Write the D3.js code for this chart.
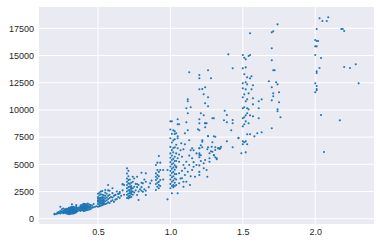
<!DOCTYPE html>
<html>
<head>
<meta charset="utf-8">
<script src="https://cdn.jsdelivr.net/npm/d3@7"></script>
<style>
  body { margin: 0; background: #fff; }
  text { font-family: Arial, "Liberation Sans", sans-serif; }
</style>
</head>
<body>
<svg id="chart" width="380" height="244"></svg>
<script>
// carat / price, grouped as [carat, [prices]] columns
const smallStones = [
  [0.20, [400, 460]], [0.21, [430]], [0.22, [470, 560]], [0.23, [500, 600]],
  [0.24, [480, 640, 700, 1100]], [0.25, [560, 650, 870]], [0.26, [500, 620, 720, 940]],
  [0.27, [540, 640, 780, 860]], [0.28, [480, 600, 650, 700, 820, 900]],
  [0.29, [450, 520, 560, 620, 700, 780, 850, 920]],
  [0.30, [420, 460, 500, 530, 560, 600, 620, 650, 680, 710, 740, 770, 800, 860, 950, 1000]],
  [0.31, [450, 490, 520, 560, 590, 620, 650, 680, 710, 740, 770, 830, 900, 980, 1050]],
  [0.32, [470, 510, 540, 570, 600, 630, 660, 690, 720, 760, 790, 850, 930, 1020, 1100, 1320]],
  [0.33, [480, 520, 550, 590, 620, 660, 690, 720, 760, 830, 900, 980, 1100]],
  [0.34, [520, 560, 600, 640, 680, 720, 760, 850, 940, 1050]],
  [0.35, [600, 650, 700, 750, 800, 900, 1000, 1150, 1250]],
  [0.36, [700, 850, 980]], [0.37, [760, 900, 1050]],
  [0.38, [720, 840, 900, 960, 1030, 1100, 1230]], [0.39, [780, 900, 960, 1020, 1080, 1150, 1280]],
  [0.40, [700, 820, 860, 900, 940, 980, 1020, 1060, 1100, 1140, 1180, 1220, 1300, 1380]],
  [0.41, [740, 860, 910, 950, 1000, 1040, 1080, 1120, 1160, 1200, 1290, 1350]],
  [0.42, [780, 880, 930, 980, 1030, 1080, 1120, 1160, 1250, 1330]],
  [0.43, [800, 950, 1030, 1100, 1230, 1400]], [0.44, [850, 1000, 1150, 1300]],
  [0.45, [900, 1080, 1250]], [0.46, [1000, 1200]], [0.47, [1050, 1350]],
  [0.48, [1100]], [0.49, [1150]]
];

const halfCarat = [
  [0.50, [1100, 1350, 1550, 1700, 1850, 2000, 2300]],
  [0.51, [1150, 1250, 1450, 1600, 1750, 1900, 2150, 2400]],
  [0.52, [1200, 1400, 1500, 1650, 1800, 1950, 2250, 2500]],
  [0.53, [1250, 1300, 1450, 1550, 1700, 1850, 2000, 2200, 2550]],
  [0.54, [1300, 1400, 1500, 1650, 1750, 1950, 2150]],
  [0.55, [1350, 1600, 1850, 2100, 2400, 2640]],
  [0.56, [1400, 1700, 1950, 2300]], [0.57, [1500, 1800, 2100, 2600, 3100]],
  [0.58, [1450, 1900, 2200, 2570]], [0.59, [1600, 2000]],
  [0.60, [1700, 1950, 2350, 2800]], [0.61, [1550, 2100]], [0.62, [1750, 2180, 2200]],
  [0.63, [1800, 2500]], [0.64, [2000, 2270, 2300]], [0.65, [1900, 2330, 2450]],
  [0.66, [2100]], [0.67, [2600, 3150, 3190]], [0.68, [2200, 3100]]
];

const sevenTenths = [
  [0.70, [1900, 2200, 2500, 2800, 3100, 3400, 3700, 4150, 4630]],
  [0.71, [1870, 2050, 2300, 2600, 2900, 3250, 3550, 3900, 4400]],
  [0.72, [1950, 2100, 2350, 2450, 2650, 2950, 3200, 3600]],
  [0.73, [2000, 2250, 2400, 2550, 2750, 2790, 2850, 3000, 3300]],
  [0.74, [2200, 2500, 2800, 3400, 3850]],
  [0.75, [2400, 2940, 3700]], [0.76, [2600, 3200]], [0.77, [2180, 2900, 3190, 3860]],
  [0.78, [1720, 2500, 3100]], [0.79, [2700]], [0.80, [2570, 2900, 3300, 4230]],
  [0.81, [2480, 3250]], [0.82, [2700, 3600]], [0.83, [2180, 2570, 3400, 4170]],
  [0.85, [2900]], [0.86, [3250]], [0.87, [3500]]
];

const nineTenths = [
  [0.90, [2640, 3190, 3560, 3850, 4170, 4935]],
  [0.91, [2940, 3300, 3710, 4020, 4475, 5150]],
  [0.92, [2800, 3100, 3400, 3900, 4300, 5760]],
  [0.93, [3000, 3560, 4475, 5150]],
  [0.95, [3600, 4475]], [0.98, [1780, 4475]]
];

const oneCarat = [
  [1.00, [2800, 3200, 3600, 4000, 4400, 4800, 5200, 5600, 6000, 6600, 7400, 8200, 8950]],
  [1.01, [2335, 3000, 3400, 3800, 4200, 4600, 5000, 5400, 5800, 6300, 7000, 7800, 8950]],
  [1.02, [2900, 3100, 3500, 3900, 4300, 4700, 5100, 5500, 6100, 6500, 7200, 8120]],
  [1.03, [3000, 3300, 3700, 4100, 4500, 4900, 5300, 5700, 6560, 7300, 7780, 8030]],
  [1.04, [3100, 3600, 4100, 4700, 5300, 6000, 6800]]
];

const oneHalf = [
  [1.47, [7390]], [1.49, [6010]],
  [1.50, [6840, 7110, 8490, 9230, 10150, 11160, 11980, 12440, 13820, 15040]],
  [1.51, [7020, 8675, 9320, 10240, 11430, 13270, 14800]],
  [1.52, [6100, 7110, 8950, 9500, 10790, 11890, 12535, 13910, 14650]],
  [1.53, [6840, 7760, 9690, 10150, 10970, 12350, 13000]],
  [1.54, [8770, 10050, 11520, 14950]], [1.55, [7760, 9500, 12900, 15040, 17040]],
  [1.56, [11890, 13090]], [1.57, [9410, 10510, 11070, 12260]],
  [1.58, [7570]], [1.60, [7850]], [1.61, [9230, 10150, 10790]],
  [1.63, [7940, 10970]], [1.68, [12630]],
  [1.70, [8310, 10880, 12080, 14560, 15660, 17130]], [1.71, [11250, 11520, 13640, 17220]],
  [1.72, [13640]], [1.73, [12535]], [1.74, [9870, 10050, 12350, 17865]],
  [1.75, [10700, 11620]], [1.76, [9320]]
];

const twoCarat = [
  [2.00, [11620, 12440, 15040, 15840, 16420]], [2.01, [11800, 11920, 12200, 13390, 13550, 15840, 16330, 17430]],
  [2.02, [16330]], [2.03, [13850, 18420]], [2.04, [9530, 14770]], [2.05, [18170]],
  [2.06, [6130]], [2.08, [18170]], [2.09, [18510]], [2.17, [9040]],
  [2.18, [17430]], [2.19, [17430]], [2.20, [13940, 17250]], [2.24, [13850]],
  [2.28, [14190]], [2.30, [12440]]
];

// loose points between the columns
const looseMid = [
  [1.04, 7850], [1.05, 9135], [1.05, 8675], [1.06, 8675], [1.05, 7573], [1.05, 7389], [1.05, 6470],
  [1.07, 6286], [1.09, 6378], [1.15, 6470], [1.16, 6286], [1.14, 6286], [1.075, 6929], [1.10, 6837],
  [1.10, 7848], [1.11, 8859], [1.12, 8124], [1.13, 7205], [1.12, 9686], [1.11, 10146], [1.14, 10238],
  [1.12, 10973], [1.12, 10789], [1.13, 13454], [1.05, 2334], [1.06, 3253], [1.09, 3400],
  [1.05, 5551], [1.06, 5238], [1.08, 5698], [1.09, 4935], [1.10, 4632], [1.11, 5238], [1.13, 4935],
  [1.15, 5551], [1.16, 4779], [1.18, 4935], [1.20, 5854], [1.20, 6470], [1.22, 7076], [1.23, 5091],
  [1.24, 5394], [1.25, 4475], [1.27, 5551], [1.285, 6617], [1.30, 5854], [1.31, 6313], [1.32, 5551],
  [1.33, 6470], [1.34, 6470], [1.35, 6617], [1.06, 4172], [1.08, 3713], [1.10, 4016], [1.12, 4322],
  [1.15, 4475], [1.17, 3860], [1.20, 4016], [1.23, 4632], [1.255, 3860], [1.11, 3400], [1.135, 3097],
  [1.09, 2940], [1.04, 4800], [1.06, 5900], [1.08, 4400], [1.13, 5800], [1.07, 3700], [1.14, 3900],
  [1.20, 12903], [1.20, 11892], [1.24, 12076], [1.23, 11432], [1.26, 11157], [1.24, 10605], [1.26, 10330],
  [1.21, 9686], [1.23, 9502], [1.29, 9227], [1.37, 9043], [1.39, 8859], [1.43, 8767], [1.20, 9135],
  [1.20, 8767], [1.24, 8767], [1.25, 8767], [1.24, 8400], [1.19, 8216], [1.20, 8124], [1.42, 8124],
  [1.26, 7573], [1.30, 7573], [1.39, 7113], [1.22, 7205], [1.29, 7021], [1.21, 6745], [1.22, 6562],
  [1.20, 6470], [1.26, 6562], [1.255, 6378], [1.31, 6562], [1.33, 6470], [1.345, 6470], [1.43, 6562],
  [1.28, 6194], [1.20, 6010], [1.21, 5827], [1.20, 5643], [1.27, 6010], [1.30, 5827], [1.31, 5643],
  [1.32, 5459], [1.40, 15108], [1.43, 13822], [1.26, 13638], [1.28, 12903], [1.20, 13206], [1.22, 11920],
  [1.375, 9925], [1.39, 9530], [1.43, 9070], [1.47, 7444], [1.34, 6405], [1.31, 7536], [1.27, 5238],
  [1.29, 6157], [1.30, 9227], [1.24, 8767], [1.26, 7600], [1.20, 4900], [1.21, 5300], [1.20, 4300],
  [1.16, 5200], [1.18, 6000]
];

const xTicks = [0.5, 1.0, 1.5, 2.0];
const yTicks = [0, 2500, 5000, 7500, 10000, 12500, 15000, 17500];

const svg = d3.select("#chart"),
    margin = {left: 39, right: 6, top: 7, bottom: 20},
    width = +svg.attr("width") - margin.left - margin.right,
    height = +svg.attr("height") - margin.top - margin.bottom;

const x = d3.scaleLinear().domain([0.0925, 2.406]).range([0, width]);
const y = d3.scaleLinear().domain([-487, 19458]).range([height, 0]);

// flatten the columns into single points
const stack = groups => groups.flatMap(([c, ps]) => ps.map(p => [c, p]));
const points = [].concat(
  stack(smallStones), stack(halfCarat), stack(sevenTenths), stack(nineTenths),
  stack(oneCarat), stack(oneHalf), stack(twoCarat), looseMid
);

const g = svg.append("g").attr("transform", `translate(${margin.left},${margin.top})`);

g.append("rect").attr("width", width).attr("height", height).attr("fill", "#eaeaf2");

// grid
g.append("g").selectAll("line").data(xTicks).join("line")
    .attr("x1", d => x(d)).attr("x2", d => x(d))
    .attr("y1", 0).attr("y2", height)
    .attr("stroke", "#fff").attr("stroke-width", 1);
g.append("g").selectAll("line").data(yTicks).join("line")
    .attr("x1", 0).attr("x2", width)
    .attr("y1", d => y(d)).attr("y2", d => y(d))
    .attr("stroke", "#fff").attr("stroke-width", 1);

// axes, seaborn darkgrid style: no spines, no tick marks
const xAxis = g.append("g").attr("transform", `translate(0,${height})`)
    .call(d3.axisBottom(x).tickValues(xTicks).tickSize(0).tickPadding(5).tickFormat(d3.format(".1f")));
const yAxis = g.append("g")
    .call(d3.axisLeft(y).tickValues(yTicks).tickSize(0).tickPadding(5).tickFormat(d => d));
[xAxis, yAxis].forEach(a => {
  a.select(".domain").remove();
  a.selectAll("text").attr("fill", "#262626").style("font-size", "9px")
      .style("font-family", "Arial, 'Liberation Sans', sans-serif");
});

// points
g.append("g").selectAll("circle").data(points).join("circle")
    .attr("cx", d => x(d[0]))
    .attr("cy", d => y(d[1]))
    .attr("r", 1.05)
    .attr("fill", "#1f77b4");
</script>
</body>
</html>
